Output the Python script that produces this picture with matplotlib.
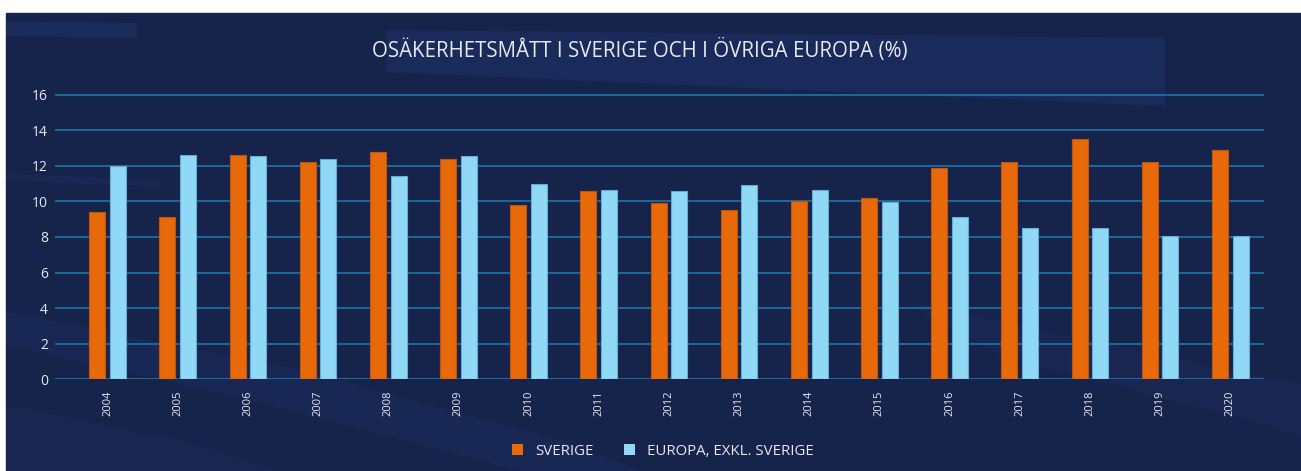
import matplotlib.pyplot as plt
import numpy as np
from matplotlib.patches import Polygon, Rectangle

years = ['2004', '2005', '2006', '2007', '2008', '2009', '2010', '2011', '2012',
         '2013', '2014', '2015', '2016', '2017', '2018', '2019', '2020']
sverige = [9.4, 9.1, 12.6, 12.2, 12.8, 12.4, 9.8, 10.6, 9.9,
           9.5, 10.0, 10.2, 11.9, 12.2, 13.5, 12.2, 12.9]
europa = [12.0, 12.6, 12.55, 12.4, 11.4, 12.55, 10.95, 10.65, 10.6,
          10.9, 10.65, 9.95, 9.15, 8.5, 8.5, 8.05, 8.05]
yticks = [0, 2, 4, 6, 8, 10, 12, 14, 16]

title = 'OSÄKERHETSMÅTT I SVERIGE OCH I ÖVRIGA EUROPA (%)'
labels = ['SVERIGE', 'EUROPA, EXKL. SVERIGE']

bg = '#16234b'
band = '#1c2c5e'
orange = '#e8690a'
light_blue = '#8fd8f6'
grid = '#1f74a8'
txt = '#e6e9f0'

plt.rcParams['font.family'] = ['Open Sans', 'DejaVu Sans']

W, H = 1301, 471
fig = plt.figure(figsize=(W / 100, H / 100), dpi=100, facecolor='white')

def px(pts):
    # pixel coords (from top-left) -> figure fraction
    return [(x / W, 1 - y / H) for x, y in pts]

fig.patches.append(Rectangle((6 / W, 0), 1 - 6 / W, 1 - 13 / H,
                             transform=fig.transFigure, color=bg, zorder=-10))
# decorative streaks of the background
streaks = [
    ([(6, 21), (137, 23), (137, 38), (6, 36)], 0.9),
    ([(386, 30), (1165, 38), (1165, 106), (386, 72)], 0.8),
    ([(6, 312), (300, 370), (560, 440), (640, 471), (520, 471), (250, 400), (6, 345)], 0.45),
    ([(6, 405), (200, 445), (280, 471), (6, 471)], 0.35),
    ([(900, 300), (1301, 385), (1301, 435), (1000, 355)], 0.35),
    ([(6, 174), (160, 180), (160, 186), (6, 181)], 0.5),
]
for s, a in streaks:
    fig.patches.append(Polygon(px(s), closed=True, transform=fig.transFigure,
                               color=band, alpha=a, zorder=-9, lw=0))

top = 16.1
ax = fig.add_axes([55 / W, (H - 379.3) / H, (1264 - 55) / W, top * 17.79 / H])
ax.set_facecolor('none')

x = np.arange(len(years))
w = 0.228
off = 0.147
ax.bar(x - off, sverige, w, color=orange, edgecolor='#c0560c', linewidth=0.8,
       label=labels[0], zorder=3)
ax.bar(x + off, europa, w, color=light_blue, edgecolor='#66acd0', linewidth=0.8,
       label=labels[1], zorder=3)

ax.set_xlim(-0.748, 16.48)
ax.set_ylim(0, top)
ax.set_yticks(yticks)
ax.set_yticklabels([str(v) for v in yticks], fontsize=10, color=txt)
ax.set_xticks(x)
ax.set_xticklabels(years, rotation=90, fontsize=8, color=txt, va='top')
ax.tick_params(axis='y', length=0, pad=5)
ax.tick_params(axis='x', length=0, pad=8)
ax.grid(axis='y', color=grid, linewidth=1.2, zorder=0)
for sp in ax.spines.values():
    sp.set_visible(False)

fig.text(640 / W, 1 - 50 / H, title, ha='center', va='center', fontsize=14.8,
         color=txt)

leg = fig.legend(loc='center', bbox_to_anchor=(663 / W, 19.5 / H), ncol=2,
                 frameon=False, fontsize=10.8, handlelength=0.75, handleheight=0.75,
                 handletextpad=0.8, columnspacing=2.0, labelcolor=txt)
for h in leg.legend_handles:
    h.set_linewidth(0)

fig.savefig('out.png', dpi=100, facecolor='white')
